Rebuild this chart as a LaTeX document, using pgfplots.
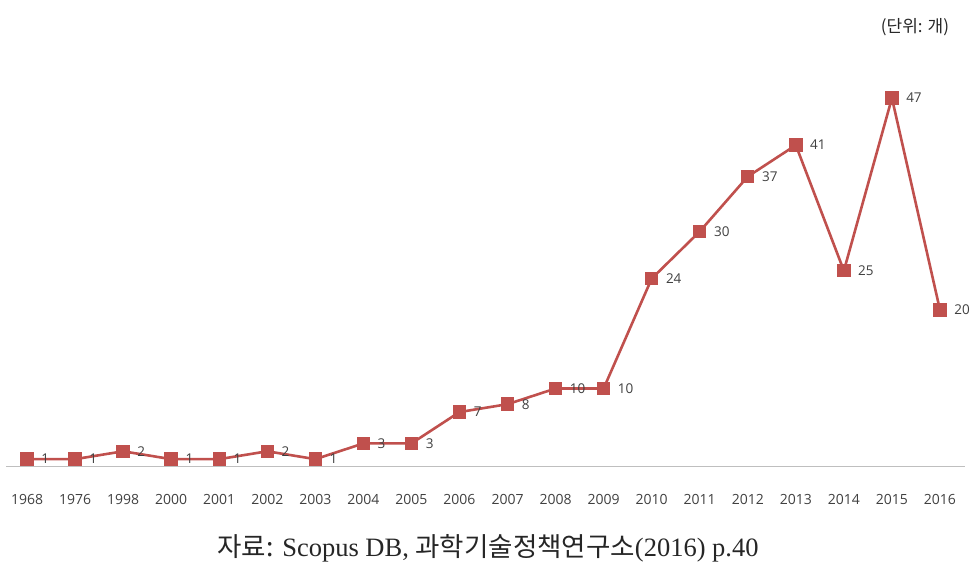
\documentclass[border=0pt]{standalone}
\usepackage{pgfplots}
\pgfplotsset{compat=1.18}
\usepackage{fontspec}
\setmainfont{Liberation Serif}
\newfontfamily\cjk{Noto Sans CJK KR}
\newfontfamily\lab{Open Sans}
\definecolor{linered}{RGB}{192,80,77}
\definecolor{txtgray}{RGB}{64,64,64}
\begin{document}
\begin{tikzpicture}[x=1pt,y=1pt]
\useasboundingbox (0,0) rectangle (975,567);
\begin{axis}[
  at={(3pt,100pt)}, anchor=south west,
  scale only axis, width=961pt, height=392.5pt,
  xmin=-0.5, xmax=19.5, ymin=0, ymax=50,
  axis x line*=bottom, axis y line=none,
  x axis line style={draw=black!25, line width=1pt, shorten <=3pt, shorten >=-1pt},
  xtick={0,...,19},
  xticklabels={1968,1976,1998,2000,2001,2002,2003,2004,2005,2006,2007,2008,2009,2010,2011,2012,2013,2014,2015,2016},
  major tick length=0pt,
  /pgf/number format/assume math mode=true,
  xticklabel style={font=\lab\fontsize{14}{14}\selectfont, text=txtgray, anchor=base, yshift=-38pt},
  clip=false,
  nodes near coords,
  nodes near coords style={font=\lab\fontsize{13.5}{13.5}\selectfont, text=txtgray, anchor=west, xshift=11pt},
]
\addplot[color=linered, line width=2.6pt, mark=square*, mark size=6.2pt, mark options={fill=linered, draw=linered, line width=0pt}]
coordinates {(0,1)(1,1)(2,2)(3,1)(4,1)(5,2)(6,1)(7,3)(8,3)(9,7)(10,8)(11,10)(12,10)(13,24)(14,30)(15,37)(16,41)(17,25)(18,47)(19,20)};
\end{axis}
\node[anchor=center, text=black!85, font=\cjk\fontsize{17}{17}\selectfont] at (915,540) {(단위: 개)};
\node[anchor=center, text=black!85, font=\fontsize{26.5}{26.5}\selectfont] at (488,19) {{\cjk 자료:} Scopus DB, {\cjk 과학기술정책연구소}(2016) p.40};
\end{tikzpicture}
\end{document}
